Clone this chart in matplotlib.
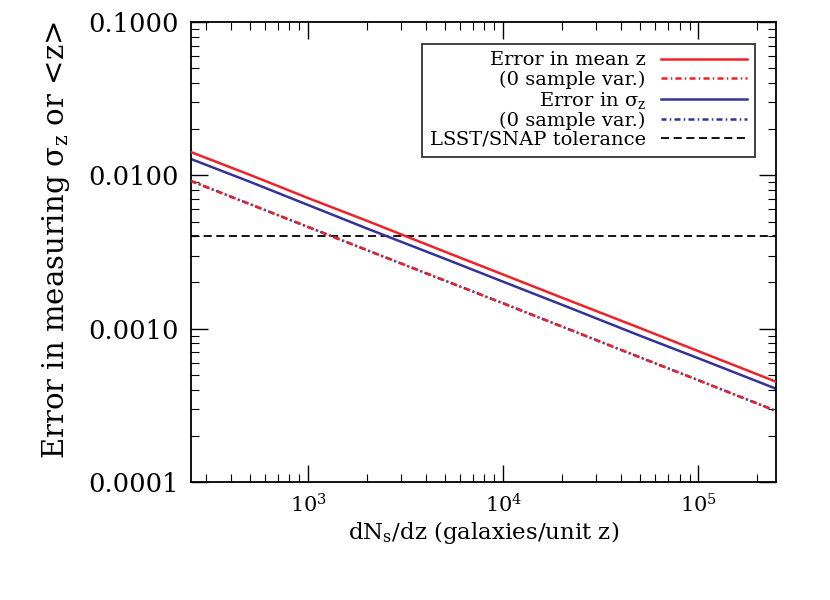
import numpy as np
import matplotlib
matplotlib.use("Agg")
import matplotlib.pyplot as plt
from matplotlib.ticker import FixedLocator, FormatStrFormatter, LogLocator

plt.rcParams['font.family'] = ['DejaVu Serif']
plt.rcParams['mathtext.fontset'] = 'dejavuserif'

# values
dndz = [250, 500, 1000, 2000, 5000, 10000, 20000, 50000, 100000, 250000]
err_mean = [0.0142, 0.0101, 0.0071, 0.00505, 0.00318, 0.00225, 0.00159, 0.00101, 0.000712, 0.00045]
err_mean_nosv = [0.0092, 0.0065, 0.0046, 0.00325, 0.00206, 0.00146, 0.00103, 0.00065, 0.00046, 0.00029]
err_sig = [0.0128, 0.0091, 0.0064, 0.0045, 0.00286, 0.00202, 0.00143, 0.0009, 0.00064, 0.000405]
err_sig_nosv = [0.0092, 0.0065, 0.0046, 0.00325, 0.00206, 0.00146, 0.00103, 0.00065, 0.00046, 0.00029]
tolerance = 0.004

red = '#ee2228'
blue = '#333399'
dashdot = (2.4, 1.3, 0.6, 1.3)

fig = plt.figure(figsize=(8.3, 6), dpi=100)
ax = fig.add_axes([0.230, 0.197, 0.705, 0.766])

ax.plot(dndz, err_mean, color=red, lw=1.8, label='Error in mean z', zorder=3)
ax.plot(dndz, err_mean_nosv, color=red, lw=1.8, ls=(0, dashdot), label='(0 sample var.)', zorder=3)
ax.plot(dndz, err_sig, color=blue, lw=1.8, label=r'Error in σ$_\mathrm{z}$', zorder=2)
ax.plot(dndz, err_sig_nosv, color=blue, lw=1.8, ls=(0.4, dashdot), label='(0 sample var.)', zorder=2)
ax.axhline(tolerance, color='black', lw=1.3, ls=(0, (4.5, 2.5)), label='LSST/SNAP tolerance', zorder=1)

ax.set_xscale('log')
ax.set_yscale('log')
ax.set_xlim(250, 250000)
ax.set_ylim(1e-4, 1e-1)

ax.yaxis.set_major_locator(FixedLocator([1e-4, 1e-3, 1e-2, 1e-1]))
ax.yaxis.set_major_formatter(FormatStrFormatter('%.4f'))
ax.yaxis.set_minor_locator(LogLocator(base=10, subs=np.arange(2, 10)))
ax.xaxis.set_minor_locator(LogLocator(base=10, subs=np.arange(2, 10)))

ax.tick_params(which='both', direction='in', top=True, right=True)
ax.tick_params(which='major', length=12, width=1.0)
ax.tick_params(which='minor', length=6, width=0.8)
ax.tick_params(axis='y', labelsize=18.5, pad=9)
ax.tick_params(axis='x', labelsize=15, pad=8)
for s in ax.spines.values():
    s.set_linewidth(1.3)

ax.set_xlabel(r'dN$_\mathrm{s}$/dz (galaxies/unit z)', fontsize=16.5, labelpad=2)
ax.set_ylabel(r'Error in measuring σ$_\mathrm{z}$ or <z>', fontsize=21)
ax.yaxis.set_label_coords(-0.203, 0.525)

leg = ax.legend(loc='upper right', markerfirst=False, fontsize=14, frameon=True,
                fancybox=False, edgecolor='black', handlelength=4.4,
                labelspacing=0.05, borderaxespad=1.1, borderpad=0.4,
                handletextpad=0.8)
leg.get_frame().set_linewidth(1.3)
for t in leg.get_texts():
    t.set_ha('right')
leg._legend_box.align = 'right'

fig.savefig('out.png', dpi=100)
